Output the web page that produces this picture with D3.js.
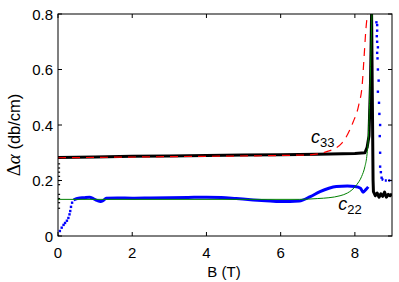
<!DOCTYPE html>
<html>
<head>
<meta charset="utf-8">
<script src="https://cdn.jsdelivr.net/npm/d3@7"></script>
<style>
  body { margin: 0; background: #fff; }
  text { font-family: "Liberation Sans", Arial, sans-serif; }
</style>
</head>
<body>
<svg width="399" height="282"></svg>
<script>
// tick values
const xTicks = [0, 2, 4, 6, 8];
const yTicks = [0, 0.2, 0.4, 0.6, 0.8];

// c33 measured (black)
const c33B = [0, 1, 2, 3, 4, 5, 6, 7, 8, 8.27, 8.33, 8.38, 8.42, 8.45, 8.47, 8.49, 8.5, 8.55, 8.6, 8.65, 8.7, 8.75, 8.8, 8.85, 8.9, 8.95, 9];
const c33A = [0.283, 0.285, 0.287, 0.288, 0.29, 0.292, 0.293, 0.295, 0.297, 0.3, 0.32, 0.36, 0.55, 0.8, 0.5, 0.2, 0.16, 0.145, 0.155, 0.14, 0.152, 0.143, 0.158, 0.14, 0.15, 0.145, 0.152];
// scattered black points at B = 0
const c33ScatterA = [0.26, 0.245, 0.23, 0.215, 0.2, 0.185, 0.15, 0.135, 0.12, 0.1];

// c33 fit (red dashed)
const fit33B = [0, 3, 6.7, 7.24, 7.65, 7.95, 8.1, 8.2, 8.25, 8.3, 8.34];
const fit33A = [0.282, 0.286, 0.292, 0.304, 0.335, 0.41, 0.47, 0.55, 0.65, 0.75, 0.8];

// c22 measured (blue), dense part
const c22B = [0.42, 0.55, 0.7, 0.85, 0.95, 1.05, 1.15, 1.22, 1.3, 1.6, 2, 2.5, 3, 3.5, 4, 4.4, 4.8, 5.26, 5.6, 6, 6.5, 6.8, 7.06, 7.3, 7.5, 7.8, 8.0, 8.15, 8.22, 8.3, 8.36];
const c22A = [0.13, 0.136, 0.138, 0.14, 0.135, 0.128, 0.124, 0.128, 0.136, 0.137, 0.136, 0.137, 0.138, 0.139, 0.14, 0.139, 0.135, 0.13, 0.127, 0.124, 0.126, 0.142, 0.16, 0.172, 0.178, 0.18, 0.178, 0.172, 0.158, 0.168, 0.177];
const c22TailB = [8.72, 8.8, 8.9, 9];
const c22TailA = [0.205, 0.2, 0.2, 0.2];
// c22 measured (blue), sparse dots
const c22DotB = [0, 0.05, 0.1, 0.15, 0.19, 0.24, 0.28, 0.31, 0.33, 0.35, 0.38, 8.58, 8.6, 8.6, 8.59, 8.6, 8.62, 8.6, 8.61, 8.62, 8.64, 8.62, 8.65, 8.66, 8.68, 8.67, 8.68, 8.68, 8.7, 8.72];
const c22DotA = [0, 0.018, 0.03, 0.04, 0.047, 0.055, 0.065, 0.078, 0.09, 0.105, 0.12, 0.77, 0.76, 0.74, 0.72, 0.7, 0.68, 0.66, 0.64, 0.6, 0.56, 0.52, 0.48, 0.44, 0.4, 0.36, 0.3, 0.25, 0.23, 0.21];

// c22 fit (green)
const fit22B = [0, 6.5, 7.0, 7.3, 7.6, 7.8, 7.92, 8.05, 8.18, 8.27, 8.32, 8.36, 8.4, 8.43, 8.46];
const fit22A = [0.132, 0.132, 0.135, 0.138, 0.145, 0.155, 0.166, 0.185, 0.214, 0.25, 0.286, 0.35, 0.5, 0.65, 0.8];

const svg = d3.select('svg');
const margin = {left: 58, right: 7, top: 14, bottom: 46};
const W = 399, H = 282;

const x = d3.scaleLinear().domain([0, 9]).range([margin.left, W - margin.right]);
const y = d3.scaleLinear().domain([0, 0.8]).range([H - margin.bottom, margin.top]);

const zip = (xs, ys) => xs.map((v, i) => [v, ys[i]]);
const line = d3.line().x(d => x(d[0])).y(d => y(d[1]));

svg.append('clipPath').attr('id', 'clip')
  .append('rect')
  .attr('x', x(0)).attr('y', y(0.8))
  .attr('width', x(9) - x(0)).attr('height', y(0) - y(0.8));

const plot = svg.append('g').attr('clip-path', 'url(#clip)');

// blue measured
plot.append('path')
  .datum(zip(c22B, c22A))
  .attr('d', line.curve(d3.curveMonotoneX))
  .attr('fill', 'none').attr('stroke', '#0000ff').attr('stroke-width', 3);
plot.append('path')
  .datum(zip(c22TailB, c22TailA))
  .attr('d', line.curve(d3.curveLinear))
  .attr('fill', 'none').attr('stroke', '#0000ff').attr('stroke-width', 2.5)
  .attr('stroke-dasharray', '2,1.5');
plot.selectAll('.bdot')
  .data(zip(c22DotB, c22DotA))
  .enter().append('rect')
  .attr('class', 'bdot')
  .attr('x', d => x(d[0]) - 1.2).attr('y', d => y(d[1]) - 1.2)
  .attr('width', 2.4).attr('height', 2.4)
  .attr('fill', '#0000ff');

// black measured
plot.append('path')
  .datum(zip(c33B, c33A))
  .attr('d', line.curve(d3.curveLinear))
  .attr('fill', 'none').attr('stroke', '#000').attr('stroke-width', 3)
  .attr('stroke-linejoin', 'round');
plot.selectAll('.kdot')
  .data(c33ScatterA)
  .enter().append('rect')
  .attr('class', 'kdot')
  .attr('x', x(0.03) - 1).attr('y', d => y(d) - 0.6)
  .attr('width', 2).attr('height', 1.2)
  .attr('fill', '#000');

// red fit
plot.append('path')
  .datum(zip(fit33B, fit33A))
  .attr('d', line.curve(d3.curveMonotoneX))
  .attr('fill', 'none').attr('stroke', '#ff0000').attr('stroke-width', 1.2)
  .attr('stroke-dasharray', '8,6');

// green fit
plot.append('path')
  .datum(zip(fit22B, fit22A))
  .attr('d', line.curve(d3.curveMonotoneX))
  .attr('fill', 'none').attr('stroke', '#008000').attr('stroke-width', 1);

// frame and ticks
svg.append('rect')
  .attr('x', x(0)).attr('y', y(0.8))
  .attr('width', x(9) - x(0)).attr('height', y(0) - y(0.8))
  .attr('fill', 'none').attr('stroke', '#000').attr('stroke-width', 1);

const tl = 4;
xTicks.forEach(t => {
  svg.append('line').attr('x1', x(t)).attr('x2', x(t)).attr('y1', y(0)).attr('y2', y(0) - tl).attr('stroke', '#000');
  svg.append('line').attr('x1', x(t)).attr('x2', x(t)).attr('y1', y(0.8)).attr('y2', y(0.8) + tl).attr('stroke', '#000');
  svg.append('text').attr('x', x(t)).attr('y', y(0) + 21.5)
    .attr('text-anchor', 'middle').attr('font-size', 15).text(t);
});
yTicks.forEach(t => {
  svg.append('line').attr('x1', x(0)).attr('x2', x(0) + tl).attr('y1', y(t)).attr('y2', y(t)).attr('stroke', '#000');
  svg.append('line').attr('x1', x(9)).attr('x2', x(9) - tl).attr('y1', y(t)).attr('y2', y(t)).attr('stroke', '#000');
  svg.append('text').attr('x', x(0) - 5).attr('y', y(t) + 5.5)
    .attr('text-anchor', 'end').attr('font-size', 15).text(t === 0 ? '0' : t.toFixed(1));
});

// axis labels
svg.append('text').attr('x', 224).attr('y', 277)
  .attr('text-anchor', 'middle').attr('font-size', 15).text('B (T)');

const yl = svg.append('text')
  .attr('transform', 'translate(20,135) rotate(-90)')
  .attr('text-anchor', 'middle').attr('font-size', 16.5);
yl.append('tspan').attr('font-family', 'Liberation Serif, serif').attr('font-size', 19).text('Δ');
yl.append('tspan').attr('font-family', 'Liberation Serif, serif').attr('font-style', 'italic').attr('font-size', 19).text('α');
yl.append('tspan').text(' (db/cm)');

// annotations
function label(bx, a, sub) {
  const t = svg.append('text').attr('x', x(bx)).attr('y', y(a))
    .attr('font-family', 'Liberation Serif, serif');
  t.append('tspan').attr('font-style', 'italic').attr('font-size', 18).text('c');
  t.append('tspan').attr('font-size', 13).attr('dy', 4).text(sub);
}
label(6.82, 0.335, '33');
label(7.55, 0.094, '22');
</script>
</body>
</html>
